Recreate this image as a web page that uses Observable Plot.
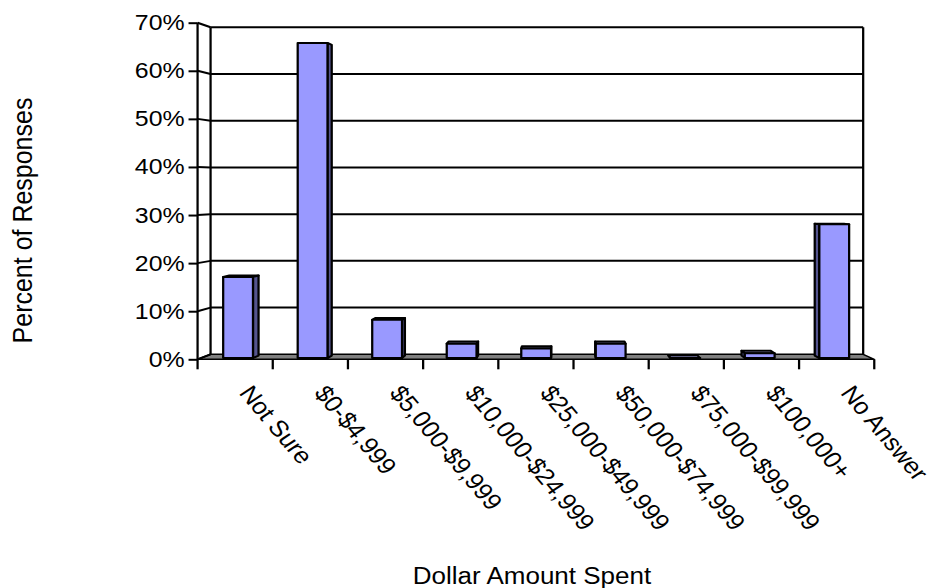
<!DOCTYPE html>
<html>
<head>
<meta charset="utf-8">
<script src="https://cdn.jsdelivr.net/npm/d3@7"></script>
<script src="https://cdn.jsdelivr.net/npm/@observablehq/plot@0.6"></script>
<style>
  html, body { margin: 0; padding: 0; background: #fff; }
  #chart svg { display: block; }
</style>
</head>
<body>
<div id="chart"></div>
<script>
// Survey answers: share of responses per spending bracket
const categories = [
  "Not Sure", "$0-$4,999", "$5,000-$9,999", "$10,000-$24,999",
  "$25,000-$49,999", "$50,000-$74,999", "$75,000-$99,999", "$100,000+", "No Answer"
];
const percents = [17, 66, 8, 3, 2, 3, 0, 1, 28];
const yTicks = [0, 10, 20, 30, 40, 50, 60, 70];
const yTitle = "Percent of Responses";
const xTitle = "Dollar Amount Spent";

const rows = categories.map((category, i) => ({category, percent: percents[i]}));

// The chart is laid out on a narrower canvas and then stretched to the page width.
const PAGE_W = 937, PAGE_H = 588, BASE_W = 829;

// Simple perspective for the 3D box: depth t = 0 is the front plane, t = 1 the back wall.
const VX = 497.8, VY = 184, KX = 0.9644, KY = 0.9715;
const project = (X, Y, t) => [VX + (1 - t * (1 - KX)) * (X - VX), VY + (1 - t * (1 - KY)) * (Y - VY)];
const BAR_FRONT = 0.25, BAR_BACK = 0.75, BAR_FROM = 0.3, BAR_TO = 0.7;

const INK = "#000", FLOOR = "#808080", FACE = "#9999ff", SIDE = "#55558f", TOP = "#b8b8ff";

// Walls, floor, gridlines and 3D columns drawn with the plot's own x and y scales
function box3d(index, scales, values, dims) {
  const {x, y} = scales;
  const g = d3.create("svg:g").attr("stroke-linejoin", "round");
  const X0 = dims.marginLeft, X1 = dims.width - dims.marginRight;
  const Y0 = y(0), YT = y(d3.max(yTicks));
  const path = (pts, fill, sw) => g.append("path")
    .attr("d", "M" + pts.map(p => p.join(",")).join("L") + "Z")
    .attr("fill", fill).attr("stroke", INK).attr("stroke-width", sw);
  const line = (a, b, sw) => g.append("line")
    .attr("x1", a[0]).attr("y1", a[1]).attr("x2", b[0]).attr("y2", b[1])
    .attr("stroke", INK).attr("stroke-width", sw);

  // floor
  path([project(X0, Y0, 0), project(X1, Y0, 0), project(X1, Y0, 1), project(X0, Y0, 1)], FLOOR, 1.5);

  // gridlines on the back wall and their links to the front axis
  for (const v of yTicks) {
    const a = project(X0, y(v), 1), b = project(X1, y(v), 1);
    if (v > 0) line(a, b, 2);
    line([X0, y(v)], a, 2);
  }
  // back wall edges and front value axis
  line(project(X0, Y0, 1), project(X0, YT, 1), 2);
  line(project(X1, Y0, 1), project(X1, YT, 1), 2);
  line([X0, Y0], [X0, YT], 2);

  // category boundary ticks
  const edges = categories.map(c => x(c)).concat([X1]);
  for (const ex of edges) line([ex, Y0], [ex, Y0 + 10], 2);

  // columns
  const bw = x.bandwidth();
  for (const r of rows) {
    const xl = x(r.category) + bw * BAR_FROM, xr = x(r.category) + bw * BAR_TO;
    const yt = y(r.percent), yb = Y0;
    const F = (X, Y) => project(X, Y, BAR_FRONT), B = (X, Y) => project(X, Y, BAR_BACK);
    // top face
    if (yt > VY) path([F(xl, yt), F(xr, yt), B(xr, yt), B(xl, yt)], TOP, 2);
    // visible side face
    if (xr < VX) path([F(xr, yt), F(xr, yb), B(xr, yb), B(xr, yt)], SIDE, 2);
    else if (xl > VX) path([F(xl, yt), F(xl, yb), B(xl, yb), B(xl, yt)], SIDE, 2);
    // front face
    path([F(xl, yt), F(xr, yt), F(xr, yb), F(xl, yb)], FACE, 2);
  }
  return g.node();
}

const chart = Plot.plot({
  width: BASE_W,
  height: PAGE_H,
  marginLeft: 174.8,
  marginRight: BASE_W - 773.5,
  marginTop: 22.7,
  marginBottom: PAGE_H - 359.3,
  style: {fontFamily: "'Liberation Sans', Arial, sans-serif", fontSize: "22px", color: "#000", background: "#fff"},
  x: {type: "band", domain: categories, padding: 0, round: false, axis: null},
  y: {domain: [0, 70], axis: null},
  marks: [
    box3d,
    Plot.axisY(yTicks, {anchor: "left", tickSize: 8, tickPadding: 4, strokeWidth: 2,
      tickFormat: d => d + "%", fontSize: 22, label: null}),
    Plot.text(categories, {x: d => d, frameAnchor: "bottom", rotate: 53, textAnchor: "start",
      lineAnchor: "middle", dx: 8, dy: 29, fontSize: 23, fill: "#000"}),
    Plot.text([xTitle], {frameAnchor: "bottom", textAnchor: "middle", dx: -4, dy: 224, fontSize: 23, fill: "#000"}),
    Plot.text([yTitle], {frameAnchor: "left", textAnchor: "middle", rotate: -90, dx: -155, dy: 29,
      fontSize: 25, fill: "#000"})
  ]
});

chart.setAttribute("width", PAGE_W);
chart.setAttribute("height", PAGE_H);
chart.setAttribute("viewBox", `0 0 ${BASE_W} ${PAGE_H}`);
chart.setAttribute("preserveAspectRatio", "none");
chart.style.maxWidth = "none";
chart.style.width = PAGE_W + "px";
chart.style.height = PAGE_H + "px";
document.getElementById("chart").append(chart);
</script>
</body>
</html>
